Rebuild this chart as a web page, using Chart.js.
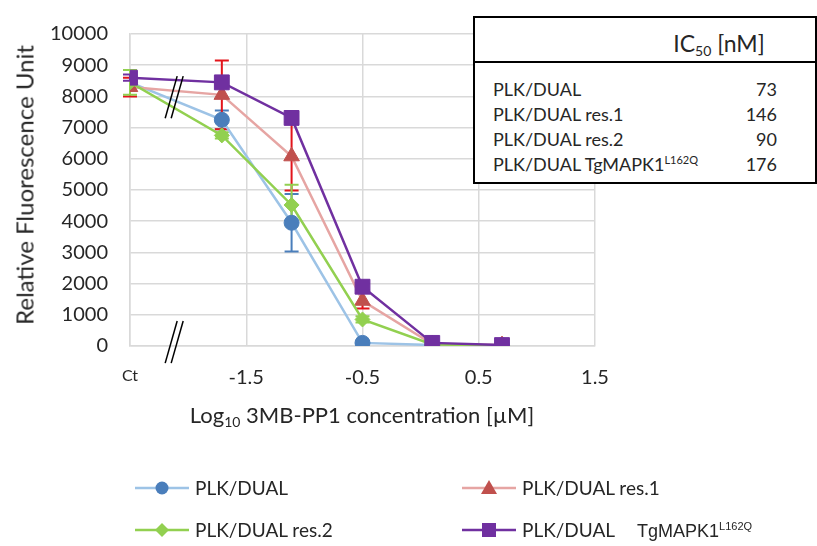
<!DOCTYPE html>
<html>
<head>
<meta charset="utf-8">
<script src="https://cdn.jsdelivr.net/npm/chart.js@4"></script>
<style>
  body { margin: 0; background: #fff; }
  #wrap { position: relative; width: 817px; height: 546px; overflow: hidden; font-family: Lato, "Open Sans", sans-serif; color: #262626; }
  #chart { position: absolute; left: 0; top: 0; }
  .ytitle { position: absolute; left: 24px; top: 185px; transform: translate(-50%, -50%) rotate(-90deg); font-size: 24px; white-space: nowrap; }
  .xtitle { position: absolute; left: 362px; top: 415px; transform: translate(-50%, -50%); font-size: 22px; white-space: nowrap; }
  .xtitle sub { font-size: 14px; vertical-align: -4px; }
  .ic50 { position: absolute; left: 473px; top: 16px; width: 340px; height: 164px; border: 2px solid #000; background: #fff; }
  .ic50 .head { height: 43px; border-bottom: 2px solid #000; position: relative; }
  .ic50 .head span { position: absolute; left: 244px; top: 26px; transform: translate(-50%, -50%); font-size: 23px; white-space: nowrap; }
  .ic50 .head sub { font-size: 14px; vertical-align: -4px; }
  .ic50 .row { position: absolute; left: 18px; width: 284px; font-size: 18px; height: 22px; line-height: 22px; }
  .ic50 .row .v { position: absolute; right: 0; top: 0; }
  .ic50 sup, .leg sup { font-size: 11px; vertical-align: 7px; line-height: 0; }
  .leg { position: absolute; font-size: 19px; white-space: nowrap; height: 24px; line-height: 24px; }
  .leg svg { position: absolute; left: 0; top: 0; }
  .leg > span { position: absolute; top: 0; }
  .leg .tg { margin-left: 22px; font-family: "Liberation Sans", Arial, sans-serif; font-size: 18px; line-height: 0; }
</style>
</head>
<body>
<div id="wrap">
  <canvas id="chart" width="817" height="546"></canvas>
  <div class="ytitle">Relative Fluorescence Unit</div>
  <div class="xtitle">Log<sub>10</sub> 3MB-PP1 concentration [µM]</div>
  <div class="ic50" id="ic50">
    <div class="head"><span>IC<sub>50</sub> [nM]</span></div>
  </div>
  <div id="legend"></div>
</div>
<script>
// x positions (log10 concentration, Ct drawn at -2.5)
const xVals = [-2.5, -1.71, -1.11, -0.5, 0.1, 0.7];
const xTicks = [-2.5, -1.5, -0.5, 0.5, 1.5];
const xTickLabels = ['Ct', '-1.5', '-0.5', '0.5', '1.5'];

const seriesNames = ['PLK/DUAL', 'PLK/DUAL res.1', 'PLK/DUAL res.2', 'PLK/DUAL TgMAPK1'];

const plkDual   = [8450, 7250, 3950, 100, 30, 20];
const plkRes1   = [8300, 8050, 6080, 1450, 60, 30];
const plkRes2   = [8450, 6750, 4520, 850, 50, 20];
const plkTgmapk = [8600, 8450, 7310, 1900, 100, 30];

const errDual   = [0, 300, 920, 50, 0, 0];
const errRes1   = [300, 1100, 1100, 250, 0, 0];
const errRes2   = [400, 100, 650, 100, 0, 0];
const errTgmapk = [100, 100, 150, 100, 0, 0];

const ic50Names = ['PLK/DUAL', 'PLK/DUAL res.1', 'PLK/DUAL res.2', 'PLK/DUAL TgMAPK1<sup>L162Q</sup>'];
const ic50Values = [73, 146, 90, 176];

// styles
const styles = [
  { line: '#9DC3E6', mark: '#4A7EBB', err: '#4A7EBB', shape: 'circle', r: 7.5 },
  { line: '#E6A5A3', mark: '#C0504D', err: '#E3141B', shape: 'triangle', r: 9 },
  { line: '#92D050', mark: '#92D050', err: '#92D050', shape: 'rectRot', r: 7.5 },
  { line: '#7030A0', mark: '#7030A0', err: '#7030A0', shape: 'rect', r: 10.5 }
];
const values = [plkDual, plkRes1, plkRes2, plkTgmapk];
const errors = [errDual, errRes1, errRes2, errTgmapk];
const drawOrder = [3, 2, 1, 0];

const datasets = values.map((vals, i) => ({
  label: seriesNames[i],
  data: xVals.map((x, j) => ({ x: x, y: vals[j] })),
  showLine: true,
  borderColor: styles[i].line,
  borderWidth: 2.5,
  pointStyle: styles[i].shape,
  pointRadius: styles[i].r,
  pointBackgroundColor: styles[i].mark,
  pointBorderColor: styles[i].mark,
  pointBorderWidth: 1,
  errors: errors[i],
  errColor: styles[i].err,
  order: drawOrder[i]
}));

// error bars, drawn under the markers
const errorBars = {
  id: 'errorBars',
  beforeDatasetsDraw(chart) {
    const c = chart.ctx;
    const xs = chart.scales.x, ys = chart.scales.y;
    chart.data.datasets.forEach(ds => {
      c.save();
      c.strokeStyle = ds.errColor;
      c.lineWidth = 2;
      ds.data.forEach((p, j) => {
        const e = ds.errors[j];
        if (!e) return;
        const px = xs.getPixelForValue(p.x);
        const top = ys.getPixelForValue(p.y + e);
        const bot = ys.getPixelForValue(Math.max(0, p.y - e));
        c.beginPath();
        c.moveTo(px, top); c.lineTo(px, bot);
        c.moveTo(px - 7, top); c.lineTo(px + 7, top);
        c.moveTo(px - 7, bot); c.lineTo(px + 7, bot);
        c.stroke();
      });
      c.restore();
    });
  }
};

// axis break marks "//"
const breakX = -2.12;
const breakTop = [7300, 8650];
const breakBottom = [-550, 800];
const axisBreaks = {
  id: 'axisBreaks',
  afterDatasetsDraw(chart) {
    const c = chart.ctx;
    const xs = chart.scales.x, ys = chart.scales.y;
    const px = xs.getPixelForValue(breakX);
    c.save();
    c.strokeStyle = '#000';
    c.lineWidth = 1.5;
    [breakTop, breakBottom].forEach(b => {
      const y1 = ys.getPixelForValue(b[0]);
      const y2 = ys.getPixelForValue(b[1]);
      [-3, 3].forEach(off => {
        c.beginPath();
        c.moveTo(px + off - 6, y1);
        c.lineTo(px + off + 6, y2);
        c.stroke();
      });
    });
    c.restore();
  }
};

new Chart(document.getElementById('chart'), {
  type: 'scatter',
  data: { datasets: datasets },
  options: {
    responsive: false,
    animation: false,
    layout: { padding: { left: 0, right: 222, top: 19, bottom: 0 } },
    plugins: { legend: { display: false }, tooltip: { enabled: false } },
    scales: {
      x: {
        type: 'linear',
        min: -2.5,
        max: 1.5,
        afterFit(scale) { scale.height = 200; },
        afterBuildTicks(scale) { scale.ticks = xTicks.map(v => ({ value: v })); },
        grid: { color: '#D9D9D9', lineWidth: 1.5, drawTicks: false },
        border: { color: '#D9D9D9', width: 1.5 },
        ticks: {
          padding: 20,
          color: '#262626',
          font: ctx => ({ family: 'Lato', size: ctx.tick && ctx.tick.value === -2.5 ? 16 : 20 }),
          callback: (v) => xTickLabels[xTicks.indexOf(v)]
        }
      },
      y: {
        min: 0,
        max: 10000,
        afterFit(scale) { scale.width = 130; },
        grid: { color: '#D9D9D9', lineWidth: 1.5, drawTicks: false },
        border: { color: '#D9D9D9', width: 1.5 },
        ticks: {
          stepSize: 1000,
          padding: 22,
          color: '#262626',
          font: { family: 'Lato', size: 20 },
          callback: (v) => String(v)
        }
      }
    }
  },
  plugins: [errorBars, axisBreaks]
});

// IC50 table
const tbl = document.getElementById('ic50');
const rowTops = [60, 85, 110, 135];
ic50Names.forEach((n, i) => {
  const r = document.createElement('div');
  r.className = 'row';
  r.style.top = rowTops[i] + 'px';
  r.innerHTML = n + '<span class="v">' + ic50Values[i] + '</span>';
  tbl.appendChild(r);
});

// legend
const legendNames = ['PLK/DUAL', 'PLK/DUAL res.1', 'PLK/DUAL res.2',
  'PLK/DUAL<span class="tg">TgMAPK1<sup>L162Q</sup></span>'];
const legendPos = [[135, 476], [462, 476], [135, 518], [462, 518]];
function markerSvg(st, cx, cy) {
  if (st.shape === 'circle') return `<circle cx="${cx}" cy="${cy}" r="6.5" fill="${st.mark}"/>`;
  if (st.shape === 'triangle') return `<polygon points="${cx},${cy - 8} ${cx + 8},${cy + 6} ${cx - 8},${cy + 6}" fill="${st.mark}"/>`;
  if (st.shape === 'rectRot') return `<polygon points="${cx},${cy - 7} ${cx + 7},${cy} ${cx},${cy + 7} ${cx - 7},${cy}" fill="${st.mark}"/>`;
  return `<rect x="${cx - 7}" y="${cy - 7}" width="14" height="14" fill="${st.mark}"/>`;
}
const leg = document.getElementById('legend');
legendNames.forEach((n, i) => {
  const st = styles[i];
  const d = document.createElement('div');
  d.className = 'leg';
  d.style.left = legendPos[i][0] + 'px';
  d.style.top = legendPos[i][1] + 'px';
  d.innerHTML = `<svg width="56" height="24"><line x1="0" y1="12" x2="54" y2="12" stroke="${st.line}" stroke-width="2.5"/>${markerSvg(st, 27, 12)}</svg><span style="left:60px">${n}</span>`;
  leg.appendChild(d);
});
</script>
</body>
</html>
